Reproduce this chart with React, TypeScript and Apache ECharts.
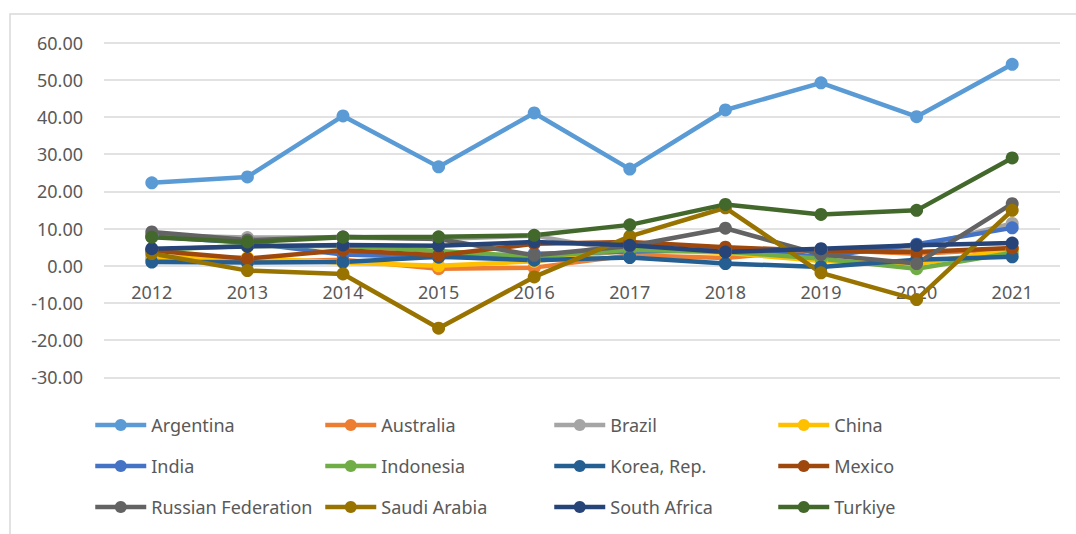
import React, { useEffect, useRef } from "react";
import * as echarts from "echarts";

const years = ["2012", "2013", "2014", "2015", "2016", "2017", "2018", "2019", "2020", "2021"];
const yTicks = [-30, 60, 10]; // min, max, interval

const argentina = [22.3, 23.9, 40.3, 26.6, 41.1, 26.0, 41.9, 49.2, 40.1, 54.2];
const australia = [1.8, 1.0, 1.6, -0.8, -0.5, 2.8, 2.1, 4.4, 3.2, 4.6];
const brazil = [8.2, 7.6, 7.6, 7.2, 8.1, 3.6, 4.4, 4.1, 5.0, 11.4];
const china = [2.4, 2.2, 0.8, 0.0, 1.2, 4.2, 3.5, 1.3, 0.5, 4.4];
const india = [7.9, 6.2, 3.0, 2.3, 3.2, 3.8, 4.5, 2.4, 5.8, 10.2];
const indonesia = [4.3, 5.3, 5.4, 4.0, 2.4, 4.3, 3.8, 1.9, -0.8, 3.5];
const korea = [1.0, 0.9, 1.0, 2.4, 1.5, 2.2, 0.6, -0.3, 1.6, 2.4];
const mexico = [4.1, 1.9, 4.2, 2.8, 5.9, 6.4, 5.0, 4.0, 3.7, 4.8];
const russia = [9.1, 6.9, 7.8, 7.2, 2.8, 5.3, 10.1, 3.0, 0.6, 16.7];
const saudi = [3.3, -1.3, -2.2, -16.8, -3.0, 7.9, 15.6, -1.9, -9.1, 14.9];
const southAfrica = [4.6, 5.2, 5.6, 5.4, 6.4, 5.5, 3.7, 4.6, 5.5, 6.1];
const turkiye = [7.7, 6.4, 7.7, 7.8, 8.2, 11.0, 16.5, 13.8, 14.9, 29.0];

const seriesList: { name: string; data: number[]; color: string }[] = [
  { name: "Argentina", data: argentina, color: "#5B9BD5" },
  { name: "Australia", data: australia, color: "#ED7D31" },
  { name: "Brazil", data: brazil, color: "#A5A5A5" },
  { name: "China", data: china, color: "#FFC000" },
  { name: "India", data: india, color: "#4472C4" },
  { name: "Indonesia", data: indonesia, color: "#70AD47" },
  { name: "Korea, Rep.", data: korea, color: "#255E91" },
  { name: "Mexico", data: mexico, color: "#9E480E" },
  { name: "Russian Federation", data: russia, color: "#636363" },
  { name: "Saudi Arabia", data: saudi, color: "#997300" },
  { name: "South Africa", data: southAfrica, color: "#264478" },
  { name: "Turkiye", data: turkiye, color: "#43682B" },
];

const FONT = "'Noto Sans', sans-serif";
const TEXT = "#595959";

export default function App() {
  const ref = useRef<HTMLDivElement>(null);
  useEffect(() => {
    if (!ref.current) return;
    const chart = echarts.init(ref.current, null, { renderer: "svg" });
    const colLeft = [88, 318, 547, 771];
    const rowTop = [410, 451, 492];
    const legends = seriesList.map((s, i) => ({
      show: true,
      left: colLeft[i % 4],
      top: rowTop[Math.floor(i / 4)],
      orient: "horizontal",
      itemWidth: 51,
      itemHeight: 15,
      selectedMode: false,
      data: [s.name],
      lineStyle: { width: 4.5 },
      textStyle: { color: TEXT, fontSize: 18, fontFamily: FONT, lineHeight: 20 },
    }));
    chart.setOption({
      animation: false,
      backgroundColor: "#ffffff",
      grid: { left: 104, right: 16, top: 42.7, bottom: 156.7, containLabel: false },
      legend: legends,
      graphic: [
        {
          type: "rect",
          shape: { x: 10, y: 14, width: 1100, height: 600 },
          style: { fill: "none", stroke: "#d9d9d9", lineWidth: 1.5 },
          silent: true,
        },
      ],
      xAxis: {
        type: "category",
        data: years,
        boundaryGap: true,
        offset: -111.6,
        axisLine: { show: false, onZero: false },
        axisTick: { show: false },
        axisLabel: { color: TEXT, fontSize: 18, fontFamily: FONT, margin: 17 },
      },
      yAxis: {
        type: "value",
        min: yTicks[0],
        max: yTicks[1],
        interval: yTicks[2],
        axisLine: { show: false },
        axisTick: { show: false },
        splitLine: { show: true, lineStyle: { color: "#d9d9d9", width: 1.5 } },
        axisLabel: {
          color: TEXT,
          fontSize: 18,
          fontFamily: FONT,
          margin: 21,
          formatter: (v: number) => v.toFixed(2),
        },
      },
      series: seriesList.map((s) => ({
        name: s.name,
        type: "line",
        data: s.data,
        symbol: "circle",
        symbolSize: 13,
        color: s.color,
        lineStyle: { width: 4.5, color: s.color },
        itemStyle: { color: s.color },
        emphasis: { disabled: true },
      })),
    });
    return () => chart.dispose();
  }, []);
  return (
    <div
      ref={ref}
      style={{ position: "absolute", left: 0, top: 0, width: 1076, height: 534 }}
    />
  );
}
